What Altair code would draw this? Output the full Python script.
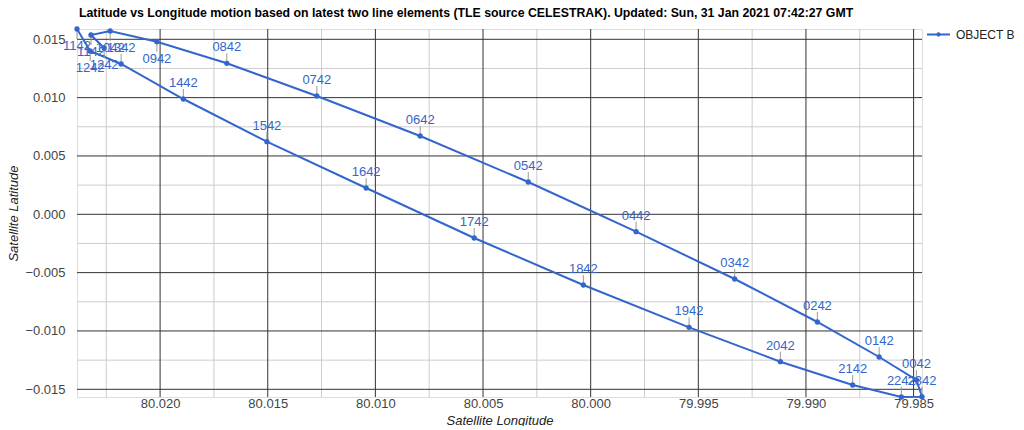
import altair as alt
import pandas as pd

# hour labels (HHMM, GMT) in time order
times = ["1142", "1242", "1342", "1442", "1542", "1642", "1742", "1842", "1942", "2042",
         "2142", "2242", "2342", "0042", "0142", "0242", "0342", "0442", "0542", "0642",
         "0742", "0842", "0942", "1042", "1142", "1242"]
longitude = [80.02386, 80.02325, 80.02181, 80.01892, 80.01504, 80.01043, 80.00541, 80.00034,
             79.99543, 79.99119, 79.98783, 79.98557, 79.98461, 79.98487, 79.98660, 79.98947,
             79.99331, 79.99789, 80.00290, 80.00792, 80.01272, 80.01690, 80.02015, 80.02232,
             80.02321, 80.02260]
latitude = [0.015883, 0.013997, 0.012883, 0.009883, 0.006223, 0.002254, -0.002031, -0.006060,
            -0.009686, -0.012634, -0.014631, -0.015660, -0.015634, -0.014203, -0.012231, -0.009231,
            -0.005546, -0.001491, 0.002769, 0.006711, 0.010140, 0.012943, 0.014794, 0.015711,
            0.015369, 0.014254]
series_name = "OBJECT B"

x_ticks = [80.020, 80.015, 80.010, 80.005, 80.000, 79.995, 79.990, 79.985]
y_ticks = [0.015, 0.010, 0.005, 0.000, -0.005, -0.010, -0.015]

TITLE = ("Latitude vs Longitude motion based on latest two line elements (TLE source CELESTRAK). "
         "Updated: Sun, 31 Jan 2021 07:42:27 GMT")

BLUE = "#3366cc"
FONT = "Liberation Sans, Arial"

df = pd.DataFrame({"t": times, "lon": longitude, "lat": latitude,
                   "idx": list(range(len(times))), "series": series_name})

lon_min, lon_max = min(longitude), max(longitude)
lat_min, lat_max = min(latitude), max(latitude)

# minor gridlines half-way between the major ones, kept inside the data range
x_minor = [v + 0.0025 for v in x_ticks] + [x_ticks[-1] - 0.0025]
x_minor = [v for v in x_minor if lon_min <= v <= lon_max]
y_minor = [v + 0.0025 for v in y_ticks] + [y_ticks[-1] - 0.0025]
y_minor = [v for v in y_minor if lat_min <= v <= lat_max]

xscale = alt.Scale(domain=[lon_min, lon_max], reverse=True, nice=False, zero=False)
yscale = alt.Scale(domain=[lat_min, lat_max], nice=False, zero=False)

x_axis = alt.Axis(values=x_ticks, format=".3f", title="Satellite Longitude", grid=False,
                  ticks=False, domain=False, labelPadding=0, labelFontSize=13, labelColor="#444",
                  labelFont=FONT, titleFont=FONT, titleFontSize=13, titleFontStyle="italic",
                  titleFontWeight="normal", titleColor="#222", titleY=23, titleBaseline="middle")
y_axis = alt.Axis(values=y_ticks, format=".3f", title="Satellite Latitude", grid=False,
                  ticks=False, domain=False, labelPadding=12, labelFontSize=13, labelColor="#444",
                  labelFont=FONT, titleFont=FONT, titleFontSize=13, titleFontStyle="italic",
                  titleFontWeight="normal", titleColor="#222", titleX=-64, titleY=184,
                  titleBaseline="middle", titleAngle=270, titleAlign="center")

X = alt.X("lon:Q", scale=xscale, axis=x_axis)
Y = alt.Y("lat:Q", scale=yscale, axis=y_axis)


def vgrid(vals, color):
    return alt.Chart(pd.DataFrame({"lon": vals})).mark_rule(color=color, strokeWidth=1).encode(x=X)


def hgrid(vals, color):
    return alt.Chart(pd.DataFrame({"lat": vals})).mark_rule(color=color, strokeWidth=1).encode(y=Y)


grid = alt.layer(vgrid(x_minor, "#cccccc"), hgrid(y_minor, "#cccccc"),
                 vgrid(x_ticks, "#333333"), hgrid(y_ticks, "#333333"))

base = alt.Chart(df)

line = base.mark_line(strokeWidth=2).encode(
    x=X, y=Y, order="idx:Q",
    color=alt.Color("series:N", scale=alt.Scale(range=[BLUE]), legend=alt.Legend(
        title=None, orient="none", legendX=849, legendY=-7, padding=0,
        symbolType="M-1,0H1M-0.1,0A0.1,0.1 0 1,1 0.1,0A0.1,0.1 0 1,1 -0.1,0Z",
        symbolSize=529, symbolStrokeWidth=2, symbolStrokeColor=BLUE, symbolFillColor=BLUE,
        labelFont=FONT, labelFontSize=12, labelColor="#222", labelOffset=5)),
)

pts = base.mark_point(filled=True, size=28, opacity=1, color=BLUE).encode(x=X, y=Y)

THR = 0.0135
above = base.transform_filter(alt.datum.lat <= THR)
below = base.transform_filter(alt.datum.lat > THR)

stem_up = above.mark_rule(color="#999999", strokeWidth=1, yOffset=-10, y2Offset=-2).encode(
    x=X, y=Y, y2="lat:Q")
stem_dn = below.mark_rule(color="#999999", strokeWidth=1, yOffset=2, y2Offset=10).encode(
    x=X, y=Y, y2="lat:Q")

txt_up = above.mark_text(dy=-12, baseline="alphabetic", align="center", font=FONT,
                         fontSize=13, color=BLUE).encode(x=X, y=Y, text="t:N")
txt_dn = below.mark_text(dy=21, baseline="alphabetic", align="center", font=FONT,
                         fontSize=13, color=BLUE).encode(x=X, y=Y, text="t:N")

chart = alt.layer(grid, line, stem_up, stem_dn, pts, txt_up, txt_dn).properties(
    width=845, height=368,
    title=alt.TitleParams(TITLE, anchor="start", frame="group", font=FONT, fontSize=12.3,
                          fontWeight="bold", color="#000", offset=3, dx=2),
    autosize=alt.AutoSizeParams(type="none"),
    padding={"left": 69, "top": 21, "right": 94, "bottom": 29},
).configure_view(stroke=None).configure(background="white")

chart.save("out.html", embed_options={"renderer": "svg", "actions": False})
